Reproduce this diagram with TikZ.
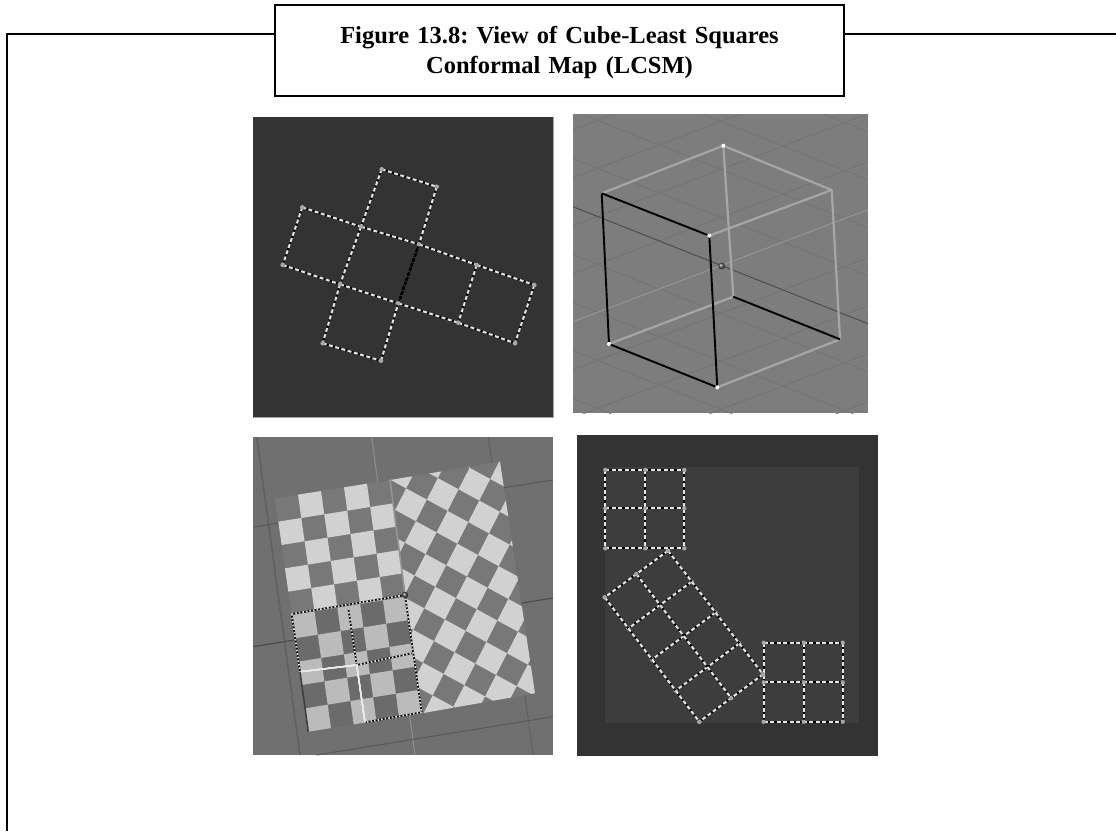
\documentclass[tikz,border=0pt]{standalone}
\usepackage{fontspec}
\setmainfont{Liberation Serif}
\usetikzlibrary{calc}
\definecolor{panel dark}{gray}{0.2}
\definecolor{panel inner}{gray}{0.24}
\definecolor{panel mid}{gray}{0.49}
\definecolor{panel view}{gray}{0.44}
\definecolor{check light}{gray}{0.82}
\definecolor{check dark}{gray}{0.47}
\tikzset{
  frame line/.style={line width=2pt, draw=black},
  title box/.style={
    rectangle, frame line, fill=white, minimum width=569pt, minimum height=91pt,
    text width=560pt, align=center, inner sep=0pt,
    font=\fontsize{24.5}{30}\selectfont\bfseries\frenchspacing
  },
  seam base/.style={line width=2pt, draw=black},
  seam top/.style={line width=2pt, draw=white!90!black, dash pattern=on 4pt off 2.5pt},
  fine base/.style={line width=1.7pt, draw=black},
  fine top/.style={line width=1.7pt, draw=white!90!black, dash pattern=on 1.6pt off 2pt},
  corner dot/.style={fill=gray!70},
  grid line/.style={line width=.7pt, draw=black!55},
  cube light/.style={line width=2.2pt, draw=black!35},
  cube dark/.style={line width=1.9pt, draw=black}
}
\newcommand{\seamline}[2]{%
  \draw[seam base] (#1) -- (#2);
  \draw[seam top] (#1) -- (#2);
}
\newcommand{\fineline}[2]{%
  \draw[fine base] (#1) -- (#2);
  \draw[fine top] (#1) -- (#2);
}
\begin{document}
\begin{tikzpicture}[x=1pt, y=-1pt]
  \useasboundingbox (0,0) rectangle (1116,831);
  % outer frame
  \coordinate (fl) at (6.5,831);
  \coordinate (ftl) at (6.5,34);
  \coordinate (ftr) at (1116,34);
  \draw[frame line] (fl) -- (ftl) -- (ftr);
  \node (title) [title box] at (559.5,50.5) {\rule{0pt}{21pt}Figure 13.8: View of Cube-Least Squares\\Conformal Map (LCSM)};

  % net of the cube
  \fill[panel dark] (253,117) rectangle (553,417);
  \draw[black!35, line width=.8pt] (553,117) -- (553,417) -- (253,417);
  \coordinate (a) at (381.7,169.3);
  \coordinate (b) at (436.7,186.7);
  \coordinate (c) at (361,226.7);
  \coordinate (d) at (419,244.3);
  \coordinate (e) at (302.3,207.3);
  \coordinate (f) at (282.7,265);
  \coordinate (g) at (340,284.3);
  \coordinate (h) at (398.3,303.3);
  \coordinate (i) at (381,360.7);
  \coordinate (j) at (322.7,343.3);
  \coordinate (k) at (476.7,265);
  \coordinate (l) at (458.3,322.7);
  \coordinate (m) at (534.3,285);
  \coordinate (n) at (515,343.3);
  \foreach \p/\q in {a/b,b/d,a/c,c/d,e/c,e/f,f/g,c/g,g/h,g/j,j/i,i/h,d/k,k/l,h/l,k/m,m/n,l/n}
    \seamline{\p}{\q}
  \draw[black, line width=1.7pt, dash pattern=on 3pt off 2pt] (d) -- (h);
  \foreach \p in {a,b,c,d,e,f,g,h,i,j,k,l,m,n}
    \fill[corner dot] (\p) circle (2.3pt);

  % wire cube
  \begin{scope}
    \clip (573,114) rectangle (868,413);
    \fill[panel mid] (573,114) rectangle (868,413);
    \foreach \k in {-5,...,5} {
      \draw[grid line] (573,206.7+48*\k) -- (868,323.7+48*\k);
      \draw[grid line] (573,321.7+48*\k) -- (868,209.7+48*\k);
    }
    \draw[black!70, line width=.9pt] (573,206.7) -- (868,323.7);
    \draw[black!40, line width=.9pt] (573,321.7) -- (868,209.7);
  \end{scope}
  \coordinate (ca) at (723.3,145.7);
  \coordinate (cb) at (831.7,190);
  \coordinate (cc) at (709.3,235.7);
  \coordinate (cd) at (601.7,193.3);
  \coordinate (ce) at (733.3,296.7);
  \coordinate (cf) at (840,339.3);
  \coordinate (cg) at (717.3,387.3);
  \coordinate (ch) at (609,344);
  \foreach \p/\q in {cd/ca,ca/cb,cb/cc,ca/ce,cb/cf,ce/ch,cf/cg}
    \draw[cube light] (\p) -- (\q);
  \foreach \p/\q in {cd/cc,cd/ch,cc/cg,ch/cg,ce/cf}
    \draw[cube dark] (\p) -- (\q);
  \foreach \p in {ca,cc,cg,ch}
    \fill[white] (\p) circle (2pt);
  \shade[ball color=black!65] (721.7,266) circle (3.4pt);

  % checker view
  \fill[panel view] (253,437) rectangle (553,755);
  \begin{scope}
    \clip (253,437) rectangle (553,755);
    \draw[black!62, line width=1.6pt] (256.7,437) -- (300,755);
    \draw[black!44, line width=1pt] (371.7,437) -- (415,755);
    \draw[black!62, line width=1pt] (488.3,437) -- (533.3,755);
    \draw[black!65, line width=1pt] (253,527) -- (553,480);
    \draw[black!72, line width=1pt] (253,646.7) -- (553,598);
    \draw[black!65, line width=1pt] (316.7,755) -- (553,716.7);
  \end{scope}
  \coordinate (ltl) at (275,498.3);
  \coordinate (ltr) at (390,480);
  \coordinate (lbr) at (421.7,713.3);
  \coordinate (lbl) at (308.3,731.7);
  \coordinate (rtr) at (500,461.7);
  \coordinate (rbr) at (535,693.3);
  \fill[check dark] (ltl) -- (ltr) -- (lbr) -- (lbl) -- cycle;
  \foreach \row in {0,...,9}
    \foreach \col in {0,...,4} {
      \pgfmathtruncatemacro{\odd}{mod(\row+\col,2)}
      \ifnum\odd=1
        \pgfmathsetmacro{\ua}{\col/5}
        \pgfmathsetmacro{\ub}{(\col+1)/5}
        \pgfmathsetmacro{\va}{\row/10}
        \pgfmathsetmacro{\vb}{(\row+1)/10}
        \fill[check light]
          ($($(ltl)!\ua!(ltr)$)!\va!($(lbl)!\ua!(lbr)$)$) --
          ($($(ltl)!\ub!(ltr)$)!\va!($(lbl)!\ub!(lbr)$)$) --
          ($($(ltl)!\ub!(ltr)$)!\vb!($(lbl)!\ub!(lbr)$)$) --
          ($($(ltl)!\ua!(ltr)$)!\vb!($(lbl)!\ua!(lbr)$)$) -- cycle;
      \fi
    }
  \begin{scope}
    \clip (ltr) -- (rtr) -- (rbr) -- (lbr) -- cycle;
    \fill[check dark] (ltr) -- (rtr) -- (rbr) -- (lbr) -- cycle;
    \foreach \p in {-9,...,14}
      \foreach \q in {-9,...,14} {
        \pgfmathtruncatemacro{\odd}{mod(abs(\p+\q),2)}
        \ifnum\odd=1
          \pgfmathsetmacro{\cx}{431.7+\p*20.7-\q*11}
          \pgfmathsetmacro{\cy}{516+\p*11.25+\q*21.55}
          \fill[check light]
            (\cx-4.85,\cy-16.4) -- (\cx+15.85,\cy-5.15) --
            (\cx+4.85,\cy+16.4) -- (\cx-15.85,\cy+5.15) -- cycle;
        \fi
      }
  \end{scope}
  \draw[black!42, line width=1.6pt] (ltr) -- (405,595);
  \coordinate (sa) at (291.7,614);
  \coordinate (sb) at (405,595);
  \coordinate (sc) at (421.7,712.3);
  \coordinate (sd) at (365,722.3);
  \coordinate (se) at (356.7,665);
  \coordinate (sf) at (300,671.7);
  \coordinate (sg) at (411.7,653.3);
  \coordinate (sh) at (348.3,608.3);
  \fill[black, opacity=.1] (sa) -- (sb) -- (lbr) -- (lbl) -- cycle;
  \foreach \p/\q in {sa/sb,sb/sc,sc/sd,sa/sf,sh/se,se/sg}
    \fineline{\p}{\q}
  \draw[white!92!black, line width=1.3pt] (sf) -- (se) -- (sd);
  \draw[black!75, line width=1.6pt] (sf) -- (lbl);
  \shade[ball color=black!70] (sb) circle (3.2pt);

  % uv layout
  \fill[panel dark] (577,435) rectangle (878,756);
  \fill[panel inner] (604.7,467.3) rectangle (859.3,723.3);
  \foreach \x/\xa in {605.3/0,645.3/1,684.3/2} {
    \coordinate (ut\xa0) at (\x,470);
    \coordinate (ut\xa1) at (\x,508.3);
    \coordinate (ut\xa2) at (\x,548.3);
  }
  \foreach \x/\xa in {763.7/0,803.7/1,842.7/2} {
    \coordinate (ub\xa0) at (\x,642.7);
    \coordinate (ub\xa1) at (\x,682.3);
    \coordinate (ub\xa2) at (\x,721.7);
  }
  \foreach \g in {ut,ub} {
    \foreach \n in {0,1,2} {
      \seamline{\g0\n}{\g2\n}
      \seamline{\g\n0}{\g\n2}
    }
    \foreach \m in {0,1,2}
      \foreach \n in {0,1,2}
        \fill[corner dot] (\g\m\n) circle (2.2pt);
  }
  \coordinate (rt) at (668,550.7);
  \coordinate (rl) at (604.7,597.3);
  \coordinate (rb) at (699.3,721.7);
  \coordinate (rr) at (763,674.3);
  \foreach \f in {0,0.25,0.5,0.75,1} {
    \coordinate (rs) at ($(rt)!\f!(rr)$);
    \coordinate (re) at ($(rl)!\f!(rb)$);
    \seamline{rs}{re}
    \fill[corner dot] (rs) circle (2.2pt);
    \fill[corner dot] (re) circle (2.2pt);
  }
  \foreach \f in {0,0.5,1} {
    \coordinate (rs) at ($(rt)!\f!(rl)$);
    \coordinate (re) at ($(rr)!\f!(rb)$);
    \seamline{rs}{re}
    \fill[corner dot] (rs) circle (2.2pt);
    \fill[corner dot] (re) circle (2.2pt);
  }
\end{tikzpicture}
\end{document}
